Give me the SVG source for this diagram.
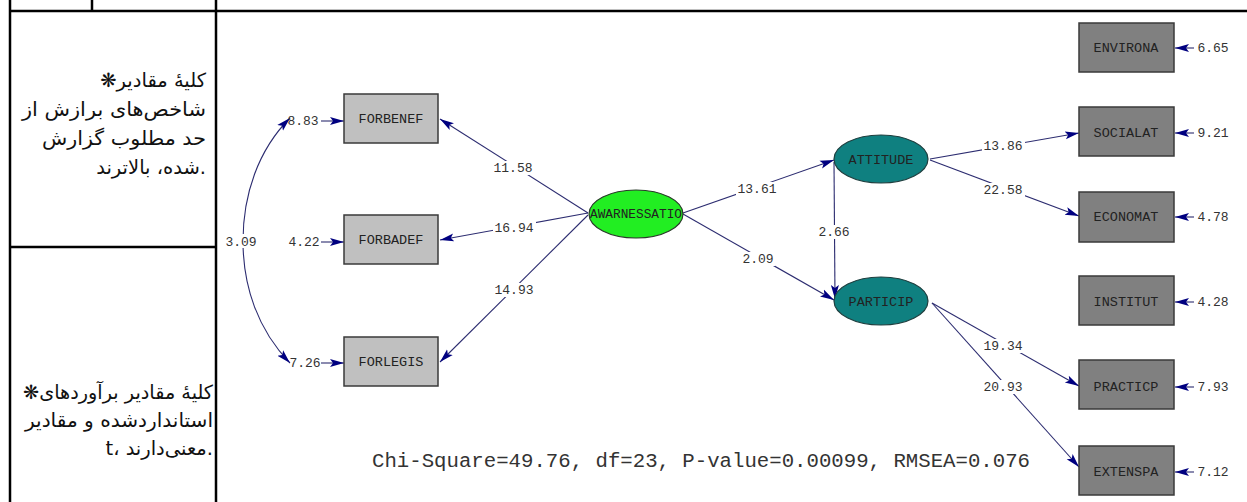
<svg xmlns="http://www.w3.org/2000/svg" width="1247" height="502" viewBox="0 0 1247 502">
<style>
.tbl{stroke:#000;stroke-width:2.5;fill:none}
.fa{font-family:"DejaVu Sans",sans-serif;font-size:19.5px;fill:#111;text-anchor:end}
.lbl{font-family:"Liberation Mono",monospace;font-size:13px;fill:#333;text-anchor:middle}
.bg{fill:#fff}
.ln{stroke:#2c2c70;stroke-width:1.1;fill:none}
.obsL{fill:#c0c0c0;stroke:#3a3a3a;stroke-width:1.5}
.obsR{fill:#808080;stroke:#3a3a3a;stroke-width:1.5}
.nt{font-family:"Liberation Mono",monospace;font-size:13.5px;fill:#222;text-anchor:middle}
</style>
<defs>
<marker id="ah" markerUnits="userSpaceOnUse" markerWidth="15" markerHeight="10" refX="14" refY="5" orient="auto">
<path d="M0,1 L14,5 L0,9 L3,5 z" fill="#000080"/>
</marker>
<marker id="ahs" markerUnits="userSpaceOnUse" markerWidth="15" markerHeight="10" refX="1" refY="5" orient="auto">
<path d="M15,1 L1,5 L15,9 L12,5 z" fill="#000080"/>
</marker>
</defs>
<rect x="0" y="0" width="1247" height="502" fill="#fff"/>
<g id="table">
<line class="tbl" x1="10" y1="11" x2="1247" y2="11"/>
<line class="tbl" x1="10" y1="0" x2="10" y2="502"/>
<line class="tbl" x1="92" y1="0" x2="92" y2="11"/>
<line class="tbl" x1="216" y1="0" x2="216" y2="502"/>
<line class="tbl" x1="10" y1="247" x2="216" y2="247"/>
<text class="fa" x="206" y="87">❋کلیهٔ مقادیر</text>
<text class="fa" x="206" y="116" textLength="184" lengthAdjust="spacingAndGlyphs">شاخص‌های برازش از</text>
<text class="fa" x="206" y="145" textLength="164" lengthAdjust="spacingAndGlyphs">حد مطلوب گزارش</text>
<text class="fa" x="206" y="174">شده، بالاترند.</text>
<text class="fa" x="213" y="399" textLength="190" lengthAdjust="spacingAndGlyphs">❋کلیهٔ مقادیر برآوردهای</text>
<text class="fa" x="213" y="427" textLength="188" lengthAdjust="spacingAndGlyphs">استانداردشده و مقادیر</text>
<text class="fa" x="213" y="455">t، معنی‌دارند.</text>
</g>
<g id="connectors">
<path class="ln" d="M290,118 C258,150 243,195 243,241 C243,287 258,330 290,363" marker-start="url(#ahs)" marker-end="url(#ah)"/>
<line class="ln" x1="588" y1="213" x2="440" y2="119" marker-end="url(#ah)"/>
<line class="ln" x1="588" y1="213" x2="440" y2="240" marker-end="url(#ah)"/>
<line class="ln" x1="588" y1="215" x2="440" y2="362" marker-end="url(#ah)"/>
<line class="ln" x1="683" y1="213" x2="834" y2="160" marker-end="url(#ah)"/>
<line class="ln" x1="683" y1="214" x2="834" y2="300" marker-end="url(#ah)"/>
<line class="ln" x1="834" y1="162" x2="835" y2="299" marker-end="url(#ah)"/>
<line class="ln" x1="930" y1="159" x2="1079" y2="133" marker-end="url(#ah)"/>
<line class="ln" x1="930" y1="160" x2="1079" y2="216" marker-end="url(#ah)"/>
<line class="ln" x1="932" y1="303" x2="1079" y2="386" marker-end="url(#ah)"/>
<line class="ln" x1="932" y1="303" x2="1079" y2="467" marker-end="url(#ah)"/>
<line class="ln" x1="321" y1="121" x2="344" y2="121" marker-end="url(#ah)"/>
<line class="ln" x1="321" y1="242" x2="344" y2="242" marker-end="url(#ah)"/>
<line class="ln" x1="321" y1="363" x2="344" y2="363" marker-end="url(#ah)"/>
<line class="ln" x1="1194" y1="48" x2="1175" y2="48" marker-end="url(#ah)"/>
<line class="ln" x1="1194" y1="133" x2="1175" y2="133" marker-end="url(#ah)"/>
<line class="ln" x1="1194" y1="217" x2="1175" y2="217" marker-end="url(#ah)"/>
<line class="ln" x1="1194" y1="302" x2="1175" y2="302" marker-end="url(#ah)"/>
<line class="ln" x1="1194" y1="387" x2="1175" y2="387" marker-end="url(#ah)"/>
<line class="ln" x1="1194" y1="472" x2="1175" y2="472" marker-end="url(#ah)"/>
<rect class="bg" x="226" y="234" width="31" height="14"/>
<text class="lbl" x="241" y="246">3.09</text>
<rect class="bg" x="492" y="161" width="43" height="14"/>
<text class="lbl" x="513" y="172">11.58</text>
<rect class="bg" x="493" y="221" width="43" height="14"/>
<text class="lbl" x="514" y="232">16.94</text>
<rect class="bg" x="493" y="283" width="43" height="14"/>
<text class="lbl" x="514" y="294">14.93</text>
<rect class="bg" x="736" y="182" width="43" height="14"/>
<text class="lbl" x="757" y="193">13.61</text>
<rect class="bg" x="741" y="252" width="34" height="14"/>
<text class="lbl" x="758" y="263">2.09</text>
<rect class="bg" x="818" y="225" width="33" height="14"/>
<text class="lbl" x="834" y="236">2.66</text>
<rect class="bg" x="982" y="139" width="43" height="14"/>
<text class="lbl" x="1003" y="150">13.86</text>
<rect class="bg" x="982" y="183" width="43" height="14"/>
<text class="lbl" x="1003" y="194">22.58</text>
<rect class="bg" x="982" y="339" width="43" height="14"/>
<text class="lbl" x="1003" y="350">19.34</text>
<rect class="bg" x="982" y="380" width="43" height="14"/>
<text class="lbl" x="1003" y="391">20.93</text>
</g>
<g id="FORBENEF"><rect class="obsL" x="344" y="94" width="94" height="49"/><text class="nt" x="391" y="123">FORBENEF</text><text class="lbl" x="303" y="125">8.83</text></g>
<g id="FORBADEF"><rect class="obsL" x="344" y="215" width="94" height="49"/><text class="nt" x="391" y="244">FORBADEF</text><text class="lbl" x="304" y="246">4.22</text></g>
<g id="FORLEGIS"><rect class="obsL" x="344" y="337" width="94" height="49"/><text class="nt" x="391" y="366">FORLEGIS</text><text class="lbl" x="305" y="367">7.26</text></g>
<g id="AWARNESSATIO"><ellipse cx="636" cy="214" rx="47" ry="24" fill="#22ee22" stroke="#2a3a2a" stroke-width="1.2"/><text class="nt" x="636" y="218" fill="#0c330c" textLength="92" lengthAdjust="spacingAndGlyphs">AWARNESSATIO</text></g>
<g id="ATTITUDE"><ellipse cx="881" cy="159" rx="47" ry="24" fill="#0f8080" stroke="#1f3f3f" stroke-width="1.2"/><text class="nt" x="881" y="164">ATTITUDE</text></g>
<g id="PARTICIP"><ellipse cx="881" cy="301" rx="47" ry="24" fill="#0f8080" stroke="#1f3f3f" stroke-width="1.2"/><text class="nt" x="881" y="306">PARTICIP</text></g>
<g id="ENVIRONA"><rect class="obsR" x="1079" y="23" width="95" height="49"/><text class="nt" x="1126" y="52">ENVIRONA</text><text class="lbl" x="1213" y="52">6.65</text></g>
<g id="SOCIALAT"><rect class="obsR" x="1079" y="107" width="95" height="49"/><text class="nt" x="1126" y="137">SOCIALAT</text><text class="lbl" x="1213" y="137">9.21</text></g>
<g id="ECONOMAT"><rect class="obsR" x="1079" y="192" width="95" height="50"/><text class="nt" x="1126" y="221">ECONOMAT</text><text class="lbl" x="1213" y="221">4.78</text></g>
<g id="INSTITUT"><rect class="obsR" x="1079" y="276" width="95" height="49"/><text class="nt" x="1126" y="306">INSTITUT</text><text class="lbl" x="1213" y="306">4.28</text></g>
<g id="PRACTICP"><rect class="obsR" x="1079" y="360" width="95" height="49"/><text class="nt" x="1126" y="391">PRACTICP</text><text class="lbl" x="1213" y="391">7.93</text></g>
<g id="EXTENSPA"><rect class="obsR" x="1079" y="446" width="95" height="49"/><text class="nt" x="1126" y="476">EXTENSPA</text><text class="lbl" x="1213" y="476">7.12</text></g>
<text x="372" y="467" font-family="'Liberation Mono',monospace" font-size="20" fill="#333" textLength="658" lengthAdjust="spacingAndGlyphs">Chi-Square=49.76, df=23, P-value=0.00099, RMSEA=0.076</text>
</svg>
